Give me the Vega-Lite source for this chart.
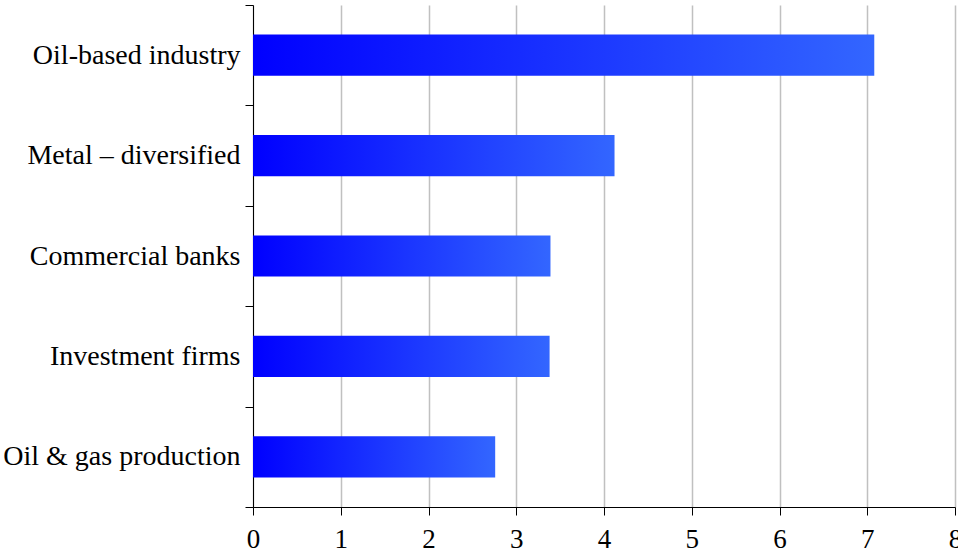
{
  "$schema": "https://vega.github.io/schema/vega-lite/v6.json",
  "width": 702,
  "height": 502,
  "autosize": {"type": "none"},
  "padding": {"left": 253, "top": 5, "right": 3, "bottom": 48},
  "background": "white",
  "config": {
    "view": {"stroke": null},
    "font": "Liberation Serif"
  },
  "data": {
    "values": [
      {"sector": "Oil-based industry", "value": 7.08},
      {"sector": "Metal – diversified", "value": 4.12},
      {"sector": "Commercial banks", "value": 3.39},
      {"sector": "Investment firms", "value": 3.38},
      {"sector": "Oil & gas production", "value": 2.76}
    ]
  },
  "mark": {
    "type": "bar",
    "height": {"band": 0.41},
    "color": {
      "gradient": "linear",
      "x1": 0, "x2": 1, "y1": 0, "y2": 0,
      "stops": [
        {"offset": 0, "color": "#0000ff"},
        {"offset": 1, "color": "#3366ff"}
      ]
    }
  },
  "encoding": {
    "y": {
      "field": "sector",
      "type": "nominal",
      "sort": null,
      "title": null,
      "scale": {"paddingInner": 0, "paddingOuter": 0},
      "axis": {
        "tickBand": "extent",
        "domainColor": "#000000",
        "tickColor": "#000000",
        "tickSize": 8,
        "labelFont": "Liberation Serif",
        "labelFontSize": 28,
        "labelColor": "#000000",
        "labelPadding": 5,
        "labelLimit": 400,
        "grid": false
      }
    },
    "x": {
      "field": "value",
      "type": "quantitative",
      "title": null,
      "scale": {"domain": [0, 8], "nice": false},
      "axis": {
        "values": [0, 1, 2, 3, 4, 5, 6, 7, 8],
        "domainColor": "#000000",
        "tickColor": "#000000",
        "tickSize": 8,
        "labelFont": "Liberation Serif",
        "labelFontSize": 27,
        "labelColor": "#000000",
        "labelPadding": 11,
        "labelFlush": false,
        "labelOverlap": false,
        "grid": true,
        "gridColor": "#c0c0c0",
        "gridWidth": 1.5
      }
    }
  }
}
